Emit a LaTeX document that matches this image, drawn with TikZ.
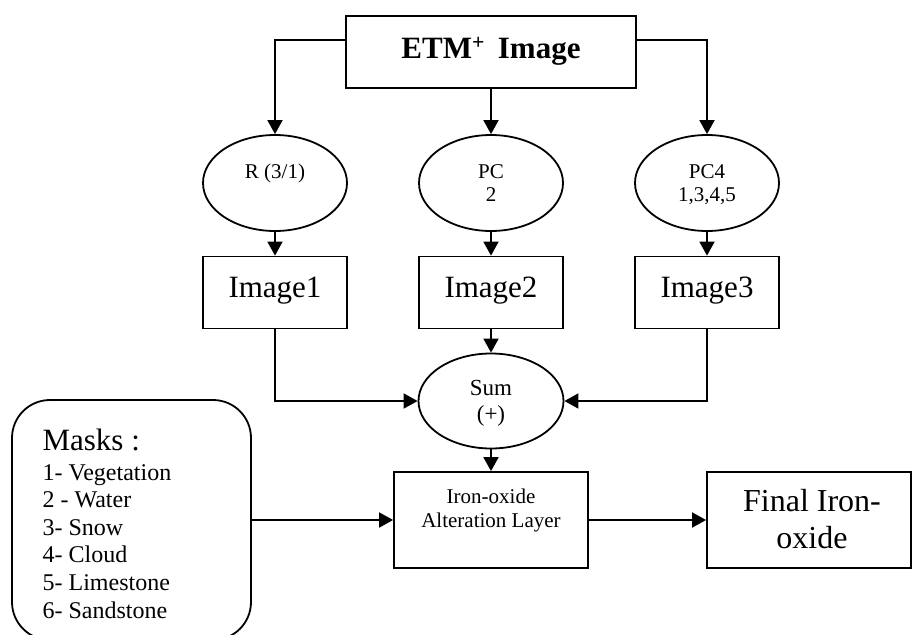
\documentclass[tikz,border=0pt]{standalone}
\usepackage{fontspec}
\setmainfont{Liberation Serif}
\usetikzlibrary{arrows.meta,shapes.geometric}
\begin{document}
\begin{tikzpicture}[x=1pt,y=-1pt,
  line width=1.8pt,
  arr/.style={-{Triangle[length=14pt,width=15pt]}},
  boxnode/.style={draw,rectangle,inner sep=0pt},
  ovalnode/.style={draw,ellipse,inner sep=0pt,minimum width=144pt,minimum height=96pt},
  txt/.style={inner sep=0pt,anchor=base},
  bigtxt/.style={txt,font=\fontsize{31}{36}\selectfont},
  midtxt/.style={txt,font=\fontsize{21}{25}\selectfont},
  sumtxt/.style={txt,font=\fontsize{23}{27}\selectfont},
  listtxt/.style={inner sep=0pt,anchor=base west,font=\fontsize{24}{28}\selectfont}
]
\useasboundingbox (0,0) rectangle (912,634);
\clip (0,0) rectangle (912,634);

% boxes
\node[boxnode,minimum width=290pt,minimum height=72pt] (etm) at (491,52) {};
\node[ovalnode] (e1) at (275,183) {};
\node[ovalnode] (e2) at (491,183) {};
\node[ovalnode] (e3) at (707,183) {};
\node[boxnode,minimum width=144pt,minimum height=72pt] (img1) at (275,292.5) {};
\node[boxnode,minimum width=144pt,minimum height=72pt] (img2) at (491,292.5) {};
\node[boxnode,minimum width=144pt,minimum height=72pt] (img3) at (707,292.5) {};
\node[draw,ellipse,inner sep=0pt,minimum width=145pt,minimum height=95pt] (sum) at (491,401) {};
\node[boxnode,minimum width=194pt,minimum height=96pt] (iron) at (491,520) {};
\node[boxnode,minimum width=204pt,minimum height=96pt] (final) at (809,520) {};
\node[draw,rectangle,rounded corners=38pt,inner sep=0pt,minimum width=239pt,minimum height=240pt] (masks) at (131.5,520) {};

% texts
\node[bigtxt,font=\fontsize{31}{36}\selectfont\bfseries] (etmt) at (491,59) {ETM\textsuperscript{+}\, Image};
\node[midtxt] (e1t) at (275,178) {R (3/1)};
\node[midtxt] (e2ta) at (491,178) {PC};
\node[midtxt] (e2tb) at (491,201.5) {2};
\node[midtxt] (e3ta) at (707,178) {PC4};
\node[midtxt] (e3tb) at (707,201.5) {1,3,4,5};
\node[bigtxt] (img1t) at (275,297) {Image1};
\node[bigtxt] (img2t) at (491,297) {Image2};
\node[bigtxt] (img3t) at (707,297) {Image3};
\node[sumtxt] (sumta) at (491,395) {Sum};
\node[sumtxt] (sumtb) at (491,421) {(+)};
\node[midtxt] (ironta) at (491,503) {Iron-oxide};
\node[midtxt] (irontb) at (491,527) {Alteration Layer};
\node[bigtxt,font=\fontsize{32}{36}\selectfont] (finalta) at (812,511.7) {Final Iron-};
\node[bigtxt,font=\fontsize{32}{36}\selectfont] (finaltb) at (812,548.3) {oxide};
\node[listtxt,font=\fontsize{31}{36}\selectfont] (mt0) at (41.7,450.7) {Masks :};
\node[listtxt] (mt1) at (41.7,480) {1- Vegetation};
\node[listtxt] (mt2) at (41.7,507.6) {2 - Water};
\node[listtxt] (mt3) at (41.7,535.2) {3- Snow};
\node[listtxt] (mt4) at (41.7,562.8) {4- Cloud};
\node[listtxt] (mt5) at (41.7,590.4) {5- Limestone};
\node[listtxt] (mt6) at (41.7,618) {6- Sandstone};

% connectors
\draw[arr] ([yshift=12pt]etm.west) -| (e1.north);
\draw[arr] (etm.south) -- (e2.north);
\draw[arr] ([yshift=12pt]etm.east) -| (e3.north);
\draw[arr] (e1.south) -- (img1.north);
\draw[arr] (e2.south) -- (img2.north);
\draw[arr] (e3.south) -- (img3.north);
\draw[arr] (img1.south) |- (sum.west);
\draw[arr] (img2.south) -- (sum.north);
\draw[arr] (img3.south) |- (sum.east);
\draw[arr] (sum.south) -- (iron.north);
\draw[arr] (masks.east) -- (iron.west);
\draw[arr] (iron.east) -- (final.west);
\end{tikzpicture}
\end{document}
